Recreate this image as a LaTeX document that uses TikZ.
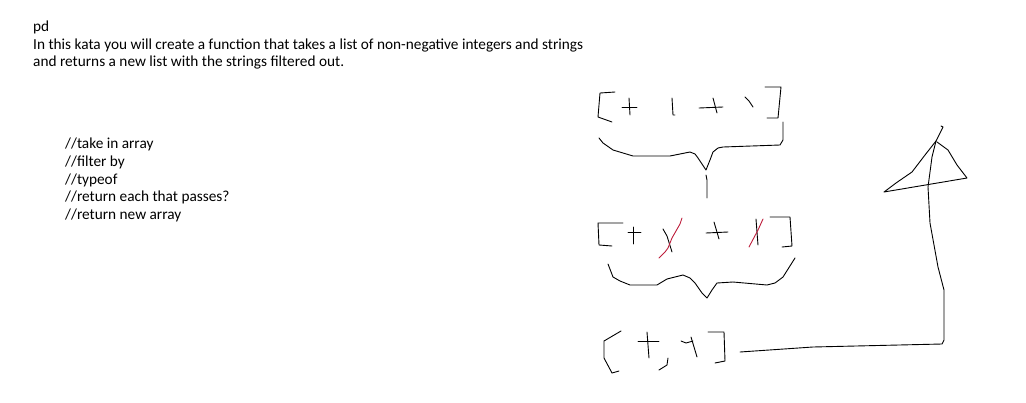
\documentclass[tikz,border=0pt]{standalone}
\usepackage{fontspec}
\setmainfont{Carlito}
\begin{document}
\begin{tikzpicture}[x=1pt,y=-1pt,
  ink/.style={line width=0.9pt,line join=round,line cap=round,black},
  redink/.style={line width=0.9pt,line cap=round,color={rgb,255:red,190;green,30;blue,60}},
  txt/.style={anchor=base west,inner sep=0pt,font=\fontsize{15.3}{17.7}\selectfont}]
\useasboundingbox[fill=white] (0,0) rectangle (1026,402);
% header text
\node[txt] (t1) at (33,31) {pd};
\node[txt] (t2) at (33,49) {In this kata you will create a function that takes a list of non-negative integers and strings};
\node[txt] (t3) at (33,66.5) {and returns a new list with the strings filtered out.};
% comments
\node[txt] (c1) at (65,148) {//take in array};
\node[txt] (c2) at (65,166) {//filter by};
\node[txt] (c3) at (65,184) {//typeof};
\node[txt] (c4) at (65,201.5) {//return each that passes?};
\node[txt] (c5) at (65,219) {//return new array};
% first list [+ 1 + \]
\draw[ink] (615,92) -- (600,93) -- (598,117) -- (612,122);
\draw[ink] (622,107) -- (637,107);
\draw[ink] (629,98) -- (630,115);
\draw[ink] (672,98) -- (673,115) -- (675,115);
\draw[ink] (699,108) -- (723,107);
\draw[ink] (713,98) -- (717,113);
\draw[ink] (745,97) -- (749,101) -- (753,107);
\draw[ink] (765,87) -- (781,87) -- (778,118) -- (767,118);
% first brace
\draw[ink] (599,138) -- (603,143) -- (613,150) -- (633,156) -- (670,156) -- (690,152) -- (695,154) -- (698,158) -- (706,170)
  -- (710,160) -- (713,152) -- (718,148) -- (723,147) -- (780,145) -- (783,140) -- (783,122);
\draw[ink] (706,175) -- (707,180) -- (707,198);
% second list
\draw[ink] (623,223) -- (598,223) -- (599,245) -- (612,246);
\draw[ink] (628,232) -- (641,232);
\draw[ink] (633,227) -- (633,244);
\draw[ink] (663,229) -- (667,236) -- (672,252);
\draw[redink] (682,218) -- (680,224) -- (672,238) -- (668,248) -- (665,252) -- (659,258);
\draw[ink] (706,233) -- (728,232);
\draw[ink] (714,222) -- (719,239);
\draw[ink] (756,219) -- (757,232) -- (758,245);
\draw[redink] (763,219) -- (758,230) -- (749,247);
\draw[ink] (770,217) -- (790,217) -- (792,246) -- (782,247);
% second brace
\draw[ink] (608,264) -- (613,277) -- (620,281) -- (630,285) -- (657,285) -- (667,279) -- (683,275) -- (690,278) -- (695,283)
  -- (702,293) -- (707,298) -- (712,290) -- (717,283) -- (733,282) -- (767,285) -- (775,283) -- (783,277) -- (795,258);
% result list
\draw[ink] (621,331) -- (604,341) -- (604,358) -- (612,373) -- (619,371);
\draw[ink] (638,341) -- (659,341);
\draw[ink] (647,332) -- (649,358);
\draw[ink] (668,358) -- (667,365) -- (659,370);
\draw[ink] (681,341) -- (686,343) -- (693,341);
\draw[ink] (691,337) -- (697,357);
\draw[ink] (708,332) -- (724,332) -- (725,361) -- (715,363);
% connector and triangle
\draw[ink] (740,352) -- (813,347) -- (942,344) -- (944,340) -- (944,328) -- (944,290) -- (938,267) -- (930,223) -- (928,187)
  -- (932,157) -- (936,141) -- (943,127) -- (941,126);
\draw[ink] (936,141) -- (925,155) -- (912,172) -- (896,183) -- (884,192) -- (967,178) -- (957,165) -- (948,150) -- (937,142);
\end{tikzpicture}
\end{document}
